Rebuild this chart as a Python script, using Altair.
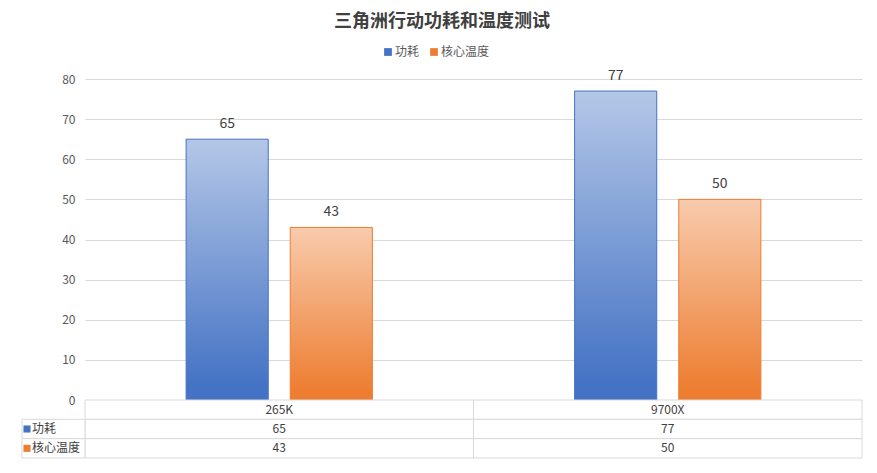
import altair as alt
import pandas as pd

categories = ["265K", "9700X"]
series = ["功耗", "核心温度"]
power = [65, 77]
temp = [43, 50]
y_ticks = [0, 10, 20, 30, 40, 50, 60, 70, 80]

FONT = "Noto Sans CJK SC"
BLUE = "#4472c4"
ORANGE = "#ed7d31"
GRID = "#d9d9d9"
TEXT = "#404040"

bars = pd.DataFrame({
    "cpu": categories * 2,
    "series": [series[0]] * 2 + [series[1]] * 2,
    "value": power + temp,
})

rows = ["cpu"] + series
table = pd.DataFrame({
    "cpu": categories * 3,
    "row": ["cpu"] * 2 + [series[0]] * 2 + [series[1]] * 2,
    "label": categories + [str(v) for v in power] + [str(v) for v in temp],
})
legend_rows = pd.DataFrame({"row": series})

x_scale = alt.Scale(domain=categories, paddingInner=0, paddingOuter=0)


def gradient(top, bottom):
    return alt.Gradient(
        gradient="linear",
        stops=[alt.GradientStop(color=top, offset=0),
               alt.GradientStop(color=bottom, offset=0.95)],
        x1=0, x2=0, y1=0, y2=1,
    )


base = alt.Chart(bars).encode(
    x=alt.X("cpu:N", scale=x_scale, axis=None),
    xOffset=alt.XOffset("series:N", sort=series,
                        scale=alt.Scale(domain=series, paddingInner=0.2115, paddingOuter=0.971)),
    y=alt.Y("value:Q", scale=alt.Scale(domain=[0, 80]), title=None,
            axis=alt.Axis(values=y_ticks, grid=True, gridColor=GRID, domain=False, ticks=False,
                          labelPadding=10, labelFont=FONT, labelFontSize=12, labelColor="#595959")),
)

blue_bars = base.transform_filter(alt.datum.series == series[0]).mark_bar(
    fill=gradient("#b4c7e7", BLUE), stroke=BLUE, strokeWidth=1)
orange_bars = base.transform_filter(alt.datum.series == series[1]).mark_bar(
    fill=gradient("#f8cbad", ORANGE), stroke=ORANGE, strokeWidth=1)
labels = base.mark_text(dy=-15, font=FONT, fontSize=14, color=TEXT).encode(text="value:Q")

top = alt.layer(blue_bars, orange_bars, labels).properties(width=777, height=321)

tx = alt.X("cpu:N", scale=x_scale, axis=None)
ty = alt.Y("row:N", scale=alt.Scale(domain=rows, paddingInner=0, paddingOuter=0), axis=None)

cells = alt.Chart(table).mark_rect(fill="white", stroke=GRID).encode(x=tx, y=ty)
cell_text = alt.Chart(table).mark_text(font=FONT, fontSize=12, color=TEXT).encode(
    x=tx, y=ty, text="label:N")
left_cells = alt.Chart(legend_rows).mark_rect(fill="white", stroke=GRID).encode(
    x=alt.value(-63), x2=alt.value(0), y=ty)
squares = alt.Chart(legend_rows).mark_square(size=50, opacity=1).encode(
    x=alt.value(-58), y=ty,
    color=alt.Color("row:N", scale=alt.Scale(domain=series, range=[BLUE, ORANGE]),
                    legend=alt.Legend(title=None, orient="none", direction="horizontal",
                                      legendX=297, legendY=-33, symbolType="square",
                                      symbolSize=60, symbolOpacity=1, labelFont=FONT,
                                      labelFontSize=12, labelColor="#595959",
                                      columnPadding=8, labelOffset=1)),
)
row_names = alt.Chart(legend_rows).mark_text(align="left", font=FONT, fontSize=12, color=TEXT).encode(
    x=alt.value(-53), y=ty, text="row:N")

bottom = alt.layer(cells, cell_text, left_cells, squares, row_names).properties(width=777, height=58)

chart = alt.vconcat(top, bottom, spacing=0, bounds="flush").properties(
    title=alt.TitleParams("三角洲行动功耗和温度测试", font=FONT, fontSize=18, fontWeight="bold",
                          color=TEXT, anchor="middle", offset=15),
    padding={"top": 5, "left": 13, "right": 4, "bottom": 5},
).configure_view(stroke=None)

chart.save("out.html", embed_options={"renderer": "svg", "actions": False})
